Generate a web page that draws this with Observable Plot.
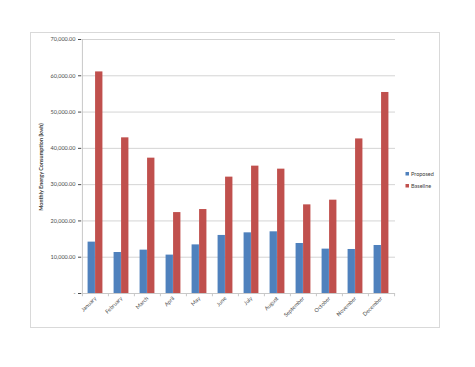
<!DOCTYPE html>
<html>
<head>
<meta charset="utf-8">
<script src="https://cdn.jsdelivr.net/npm/d3@7"></script>
<script src="https://cdn.jsdelivr.net/npm/@observablehq/plot@0.6"></script>
<style>
  html, body { margin: 0; padding: 0; background: #fff; }
</style>
</head>
<body>
<div id="chart"></div>
<script>
const months = ["January", "February", "March", "April", "May", "June", "July", "August", "September", "October", "November", "December"];
const proposed = [14160, 11300, 11950, 10580, 13400, 16000, 16720, 17000, 13780, 12230, 12130, 13230];
const baseline = [61070, 42900, 37300, 22300, 23140, 32070, 35100, 34270, 24430, 25720, 42600, 55400];
const seriesNames = ["Proposed", "Baseline"];
const seriesColors = ["#4F81BD", "#C0504D"];
const yTicks = [0, 10000, 20000, 30000, 40000, 50000, 60000, 70000];
const yTitle = "Monthly Energy Consumption (kwh)";

const rows = months.map((m, i) => ({month: m, Proposed: proposed[i], Baseline: baseline[i]}));
const fmt = d3.format(",.2f");

const W = 475, H = 367;
const mL = 81, mR = 80, mT = 39, mB = 74;
const step = (W - mL - mR) / months.length;
const barW = 7.5;
const outer = (step - 2 * barW) / 2;

const chart = Plot.plot({
  width: W,
  height: H,
  marginLeft: mL,
  marginRight: mR,
  marginTop: mT,
  marginBottom: mB,
  style: {fontFamily: "Lato, 'Open Sans', sans-serif", fontSize: "5.5px", color: "#4a4a4a", background: "#fff"},
  x: {domain: months, padding: 0, label: null, tickSize: 0, tickRotate: -45, tickPadding: 4},
  y: {domain: [0, 70000], ticks: yTicks, tickFormat: d => d === 0 ? "-" : fmt(d), label: null, tickSize: 3, tickPadding: 3},
  marks: [
    Plot.ruleY(yTicks.slice(1), {stroke: "#d4d4d4", strokeWidth: 1}),
    Plot.ruleX(months, {x: d => d, dx: -step / 2, y1: 0, y2: -900, stroke: "#c8c8c8"}),
    Plot.ruleX([months[months.length - 1]], {x: d => d, dx: step / 2, y1: 0, y2: -900, stroke: "#c8c8c8"}),
    Plot.barY(rows, {x: "month", y: "Proposed", fill: seriesColors[0], insetLeft: outer, insetRight: outer + barW}),
    Plot.barY(rows, {x: "month", y: "Baseline", fill: seriesColors[1], insetLeft: outer + barW, insetRight: outer}),
    Plot.ruleY([0], {stroke: "#c8c8c8"}),
    Plot.ruleX([0], {x: () => months[0], dx: -step / 2, y1: 0, y2: 70000, stroke: "#c8c8c8"})
  ]
});

const svg = d3.select(chart);
svg.insert("rect", ":first-child")
  .attr("x", 30.5).attr("y", 32.5).attr("width", 409).attr("height", 295)
  .attr("fill", "none").attr("stroke", "#d9d9d9");

svg.append("text")
  .attr("transform", "translate(43,167) rotate(-90)")
  .attr("text-anchor", "middle")
  .attr("font-size", "5.5px")
  .attr("font-weight", "bold")
  .attr("fill", "#404040")
  .text(yTitle);

seriesNames.forEach((name, i) => {
  const y = 175 + i * 12;
  svg.append("rect").attr("x", 405.5).attr("y", y - 3).attr("width", 3.5).attr("height", 3.5).attr("fill", seriesColors[i]);
  svg.append("text").attr("x", 411).attr("y", y + 1).attr("text-anchor", "start").attr("font-size", "5.5px").attr("fill", "#404040").text(name);
});

document.getElementById("chart").appendChild(chart);
</script>
</body>
</html>
